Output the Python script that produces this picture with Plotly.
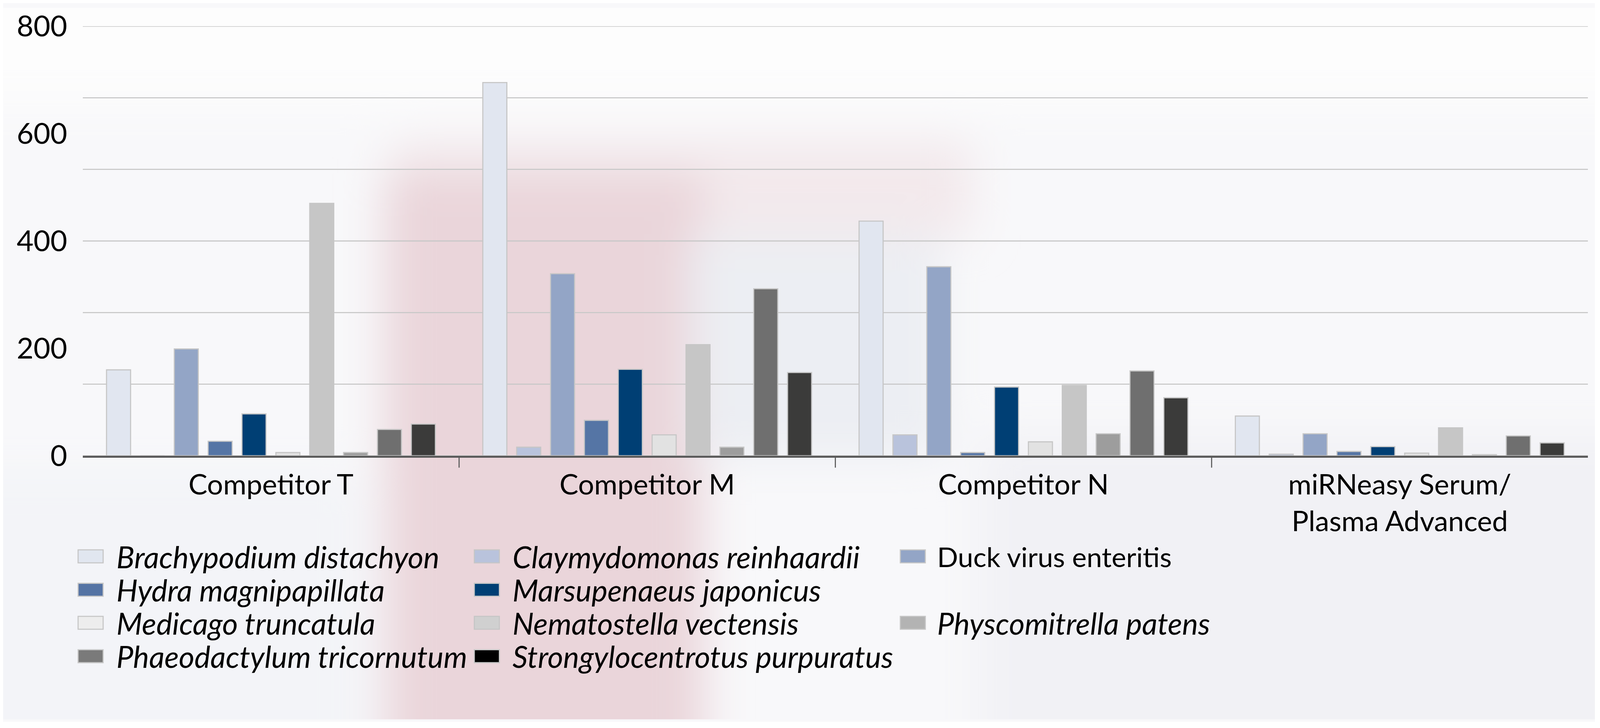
import base64
import plotly.graph_objects as go

# ---------------- data ----------------
categories = ["Competitor T", "Competitor M", "Competitor N", "miRNeasy Serum/Plasma Advanced"]
category_labels = ["Competitor T", "Competitor M", "Competitor N", "miRNeasy Serum/<br>Plasma Advanced"]

series_names = [
    "Brachypodium distachyon",
    "Claymydomonas reinhaardii",
    "Duck virus enteritis",
    "Hydra magnipapillata",
    "Marsupenaeus japonicus",
    "Medicago truncatula",
    "Nematostella vectensis",
    "Physcomitrella patens",
    "Phaeodactylum tricornutum",
    "Strongylocentrotus purpuratus",
]
italic_names = [True, True, False, True, True, True, True, True, True, True]

brachypodium = [160, 695, 437, 74]
claymydomonas = [0, 16, 39, 3]
duck_virus = [199, 339, 352, 41]
hydra = [27, 66, 6, 8]
marsupenaeus = [78, 161, 128, 17]
medicago = [6, 39, 26, 5]
nematostella = [470, 207, 131, 52]
physcomitrella = [6, 16, 41, 2]
phaeodactylum = [49, 311, 158, 37]
strongylocentrotus = [59, 155, 108, 24]

series_values = [brachypodium, claymydomonas, duck_virus, hydra, marsupenaeus,
                 medicago, nematostella, physcomitrella, phaeodactylum, strongylocentrotus]

y_tick_values = [0, 200, 400, 600, 800]
y_grid_values = [0, 800 / 6, 1600 / 6, 400, 3200 / 6, 4000 / 6, 800]
divider_positions = [0.5, 1.5, 2.5]

# ---------------- style ----------------
bar_colors = ["#e1e6f0", "#b9c3dc", "#93a5c6", "#5575a5", "#003f74",
              "#e2e2e2", "#c6c6c6", "#9d9d9d", "#6f6f6f", "#3b3b3a"]
legend_colors = ["#e1e6f0", "#b9c3dc", "#93a5c6", "#5473a4", "#003f74",
                 "#ededed", "#d0d0d0", "#b3b3b3", "#7a7a7a", "#000000"]
legend_slots = [(0, 0), (0, 1), (0, 2), (1, 0), (1, 1), (2, 0), (2, 1), (2, 2), (3, 0), (3, 1)]

FONT = "Lato, 'Open Sans', 'DejaVu Sans', sans-serif"

# the page is photographed with a ~1.0766 scale; work in target-picture pixels and convert
K = 1.0766
OFF = 8.6


def c(p):      # target picture position -> figure css px
    return (p - OFF) / K


def d(n):      # target picture length -> css px
    return n / K


W, H = 4075, 1840
L = c(228)
T = c(60)
PR = c(4376)
PB = c(1256)
R = W - PR
B = H - PB
PW, PH = PR - L, PB - T


def xp(p):
    return (c(p) - L) / PW


def yp(p):
    return (PB - c(p)) / PH


fig = go.Figure()
for name, vals, col in zip(series_names, series_values, bar_colors):
    fig.add_trace(go.Bar(
        x=categories, y=vals, name=name,
        marker=dict(color=col, line=dict(color="#c6c6c6", width=d(3))),
        showlegend=False,
    ))

# background: soft blurred photo-like wash (target-picture pixel space)
VW, VH = W * K, H * K
svg = f"""<svg xmlns='http://www.w3.org/2000/svg' width='{VW:.0f}' height='{VH:.0f}' viewBox='{OFF} {OFF} {VW:.1f} {VH:.1f}' preserveAspectRatio='none'>
<defs><filter id='b' x='-50%' y='-50%' width='200%' height='200%'><feGaussianBlur stdDeviation='60'/></filter></defs>
<rect x='-100' y='-100' width='4700' height='2300' fill='#f8f8fa'/>
<g filter='url(#b)'>
<rect x='-200' y='-200' width='4800' height='480' fill='#fdfdfd'/>
<rect x='1080' y='380' width='1600' height='260' fill='#f3e9ec'/>
<rect x='1060' y='470' width='880' height='1800' fill='#ead5da'/>
<rect x='1900' y='640' width='700' height='620' fill='#eceef3'/>
<rect x='-200' y='1300' width='1200' height='1000' fill='#f3f4f8'/>
<rect x='2700' y='1200' width='1904' height='1100' fill='#f1f1f5'/>
</g>
</svg>"""
uri = "data:image/svg+xml;base64," + base64.b64encode(svg.encode()).decode()

shapes = []
for gv in y_grid_values:
    shapes.append(dict(type="line", xref="paper", yref="y", x0=0, x1=1, y0=gv, y1=gv,
                       line=dict(color="#c8c8c8", width=d(3)), layer="below"))
for dv in divider_positions:
    shapes.append(dict(type="line", xref="x", yref="paper", x0=dv, x1=dv, y0=0, y1=-d(33) / PH,
                       line=dict(color="#5a5a5a", width=d(3)), layer="above"))

annotations = []
for name, it, lc, (row, colidx) in zip(series_names, italic_names, legend_colors, legend_slots):
    sx = [215, 1307, 2481][colidx]
    tx = [318, 1410, 2580][colidx]
    cy = [1536, 1629, 1721, 1814][row]
    shapes.append(dict(type="rect", xref="paper", yref="paper",
                       x0=xp(sx), x1=xp(sx + 69), y0=yp(cy + 18), y1=yp(cy - 18),
                       fillcolor=lc, line=dict(color="#c6c6c6", width=d(3)), layer="above"))
    annotations.append(dict(x=xp(tx), y=yp(cy), xref="paper", yref="paper",
                            xanchor="left", yanchor="middle", showarrow=False,
                            text=f"<i>{name}</i>" if it else name,
                            font=dict(family=FONT, size=d(83) if it else d(76), color="#000000")))

fig.update_layout(
    width=W, height=H,
    margin=dict(l=L, r=R, t=T, b=B, pad=0),
    paper_bgcolor="#f8f8fa", plot_bgcolor="rgba(0,0,0,0)",
    font=dict(family=FONT, size=d(78), color="#000000"),
    barmode="group", bargap=0.10, bargroupgap=0.29,
    showlegend=False,
    shapes=shapes, annotations=annotations,
    images=[dict(source=uri, xref="paper", yref="paper",
                 x=(0 - L) / PW, y=PB / PH, sizex=W / PW, sizey=H / PH,
                 xanchor="left", yanchor="top", sizing="stretch", layer="below")],
    xaxis=dict(type="category", categoryorder="array", categoryarray=categories,
               range=[-0.5, 3.5], tickmode="array", tickvals=categories, ticktext=category_labels,
               showline=True, linecolor="#5a5a5a", linewidth=d(5), ticks="",
               showgrid=False, zeroline=False, ticklabelstandoff=int(round(d(8))),
               tickfont=dict(family=FONT, size=d(78), color="#000000")),
    yaxis=dict(range=[0, 800], tickmode="array", tickvals=y_tick_values,
               showgrid=False, zeroline=False, ticks="", showline=False,
               ticklabelstandoff=int(round(d(42))),
               tickfont=dict(family=FONT, size=d(80), color="#000000")),
)

fig.write_html("out.html")
